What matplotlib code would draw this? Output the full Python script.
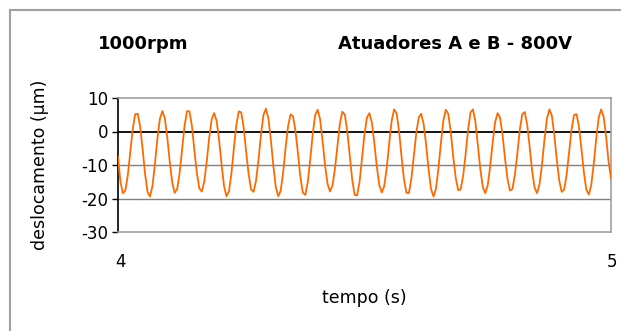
import numpy as np
import matplotlib
matplotlib.use("Agg")
import matplotlib.pyplot as plt
from matplotlib.patches import Rectangle

# deslocamento (um), amostras de 0.005 s entre 4 s e 5 s
t_start = 4.0
t_end = 5.0
deslocamento = [
    -7.5, -15.1, -18.4, -17.6, -12.9, -5.9, 0.9, 5.2, 5.3, 1.4,
    -5.3, -12.8, -18.1, -19.4, -16.2, -9.6, -2.0, 3.8, 6.1, 4.0,
    -1.8, -9.1, -15.2, -18.3, -17.2, -12.4, -5.5, 1.7, 6.1, 6.0,
    1.6, -5.7, -12.4, -17.0, -17.9, -14.9, -8.9, -1.9, 3.6, 5.5,
    3.2, -2.4, -9.7, -16.2, -19.3, -17.9, -12.6, -5.1, 1.9, 6.0,
    5.7, 1.1, -6.1, -12.8, -17.3, -18.0, -14.7, -8.5, -1.0, 4.9,
    6.8, 4.0, -2.4, -10.1, -16.5, -19.3, -17.7, -12.2, -4.8, 1.6,
    5.1, 4.6, 0.2, -6.5, -13.7, -18.3, -18.9, -15.1, -8.3, -0.7,
    4.9, 6.5, 3.6, -2.9, -10.1, -15.6, -17.9, -16.2, -11.2, -4.3,
    2.3, 5.9, 5.1, 0.2, -7.0, -14.3, -18.9, -19.1, -15.0, -7.9,
    -0.8, 4.2, 5.5, 2.6, -3.5, -10.5, -16.0, -18.2, -16.3, -11.0,
    -3.7, 3.1, 6.6, 5.5, 0.3, -7.3, -14.2, -18.3, -18.4, -14.2,
    -7.4, -0.5, 4.2, 5.3, 2.2, -3.9, -11.3, -17.2, -19.4, -17.1,
    -11.0, -3.4, 3.3, 6.5, 5.2, -0.2, -7.6, -13.8, -17.5, -17.3,
    -13.3, -7.0, 0.5, 5.7, 6.6, 2.9, -4.1, -11.3, -16.6, -18.4,
    -16.0, -10.3, -3.2, 2.8, 5.5, 4.1, -1.0, -8.0, -14.1, -17.6,
    -17.2, -13.0, -6.6, 0.5, 5.2, 5.8, 2.1, -4.6, -11.7, -16.8,
    -18.4, -15.8, -9.9, -2.5, 3.8, 6.6, 4.8, -1.0, -8.4, -14.6,
    -18.0, -17.3, -12.9, -6.2, 0.6, 4.9, 5.2, 1.5, -5.1, -12.2,
    -17.4, -18.8, -15.9, -9.7, -2.1, 4.1, 6.6, 4.5, -1.4, -8.9,
    -14.0,
]
tempo = np.linspace(t_start, t_end, len(deslocamento))

y_ticks = [10, 0, -10, -20, -30]

W, H = 621, 331
fig = plt.figure(figsize=(W / 100, H / 100), dpi=100)
fig.patch.set_facecolor("white")

# moldura externa (area do grafico do Excel)
fig.patches.append(Rectangle((10 / W, -0.1), 1.2, 1 - 10 / H + 0.1,
                             transform=fig.transFigure, fill=False,
                             edgecolor="#a0a0a0", linewidth=1.5))

ax = fig.add_axes([118 / W, 1 - 232 / H, 493 / W, 134 / H])
ax.plot(tempo, deslocamento, color="#ff6a00", linewidth=1.3, zorder=3)

ax.set_xlim(t_start, t_end)
ax.set_ylim(-30, 10)
ax.set_yticks(y_ticks)
ax.set_yticklabels([str(v) for v in y_ticks], fontsize=12)
ax.tick_params(axis="y", direction="out", length=4, width=1, pad=3,
               color="black")
ax.set_xticks([])

for v in [-10, -20]:
    ax.axhline(v, color="#808080", linewidth=1, zorder=1)
ax.axhline(0, color="black", linewidth=1.3, zorder=2)

for s in ["top", "right", "bottom"]:
    ax.spines[s].set_color("#a0a0a0")
    ax.spines[s].set_linewidth(1.2)
ax.spines["left"].set_color("black")
ax.spines["left"].set_linewidth(1.2)

# rotulos do eixo x (4 e 5) bem abaixo da area de plotagem
fig.text(120 / W, 1 - 262 / H, "4", fontsize=12, ha="center", va="center")
fig.text(612 / W, 1 - 262 / H, "5", fontsize=12, ha="center", va="center")
fig.text(364.5 / W, 1 - 298 / H, "tempo (s)", fontsize=12.5,
         ha="center", va="center")
fig.text(40 / W, 1 - 165 / H, "deslocamento (\u00b5m)", fontsize=12.5,
         rotation=90, ha="center", va="center")

fig.text(143.5 / W, 1 - 44 / H, "1000rpm", fontsize=13, fontweight="bold",
         ha="center", va="center")
fig.text(455 / W, 1 - 44 / H, "Atuadores A e B - 800V", fontsize=13,
         fontweight="bold", ha="center", va="center")

fig.savefig("out.png", dpi=100, facecolor="white")
